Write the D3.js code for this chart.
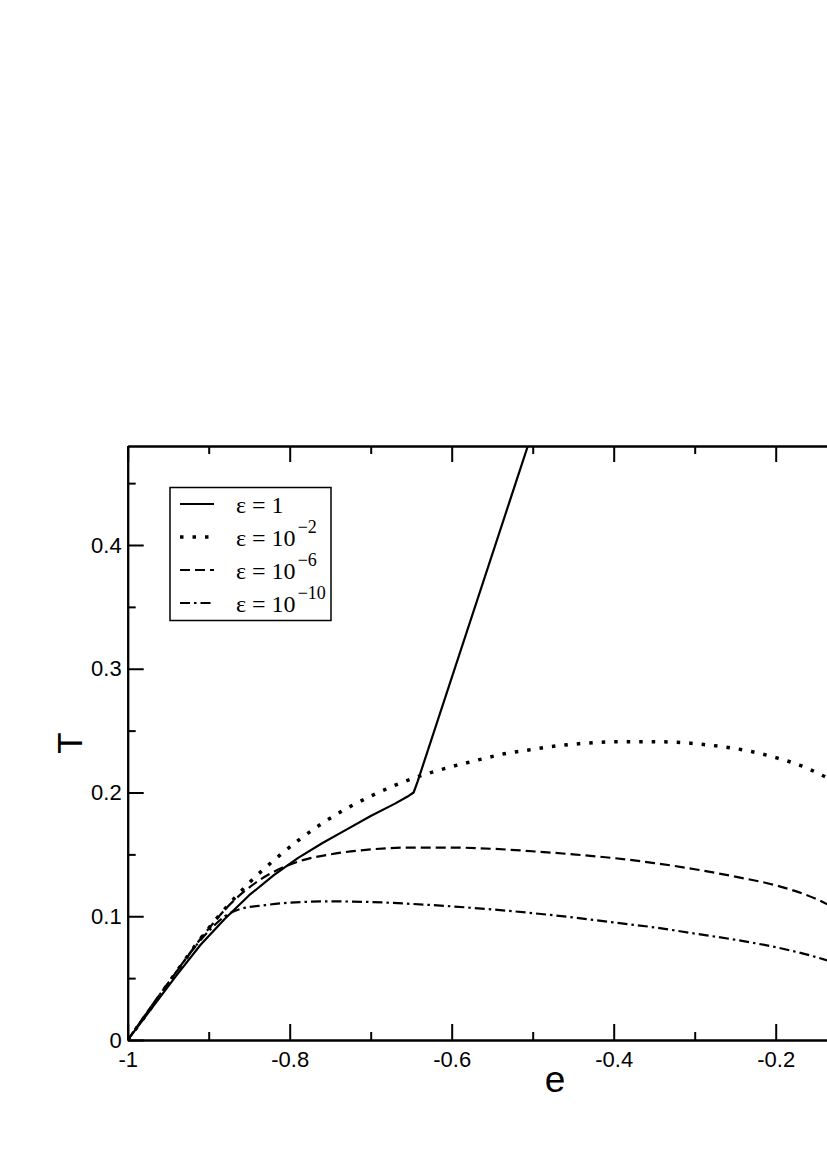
<!DOCTYPE html>
<meta charset="utf-8">

<!-- Load d3.js -->
<script src="https://d3js.org/d3.v7.min.js"></script>

<style>
  body { margin: 0; background: #fff; overflow: hidden; }
</style>

<!-- Create a div where the graph will take place -->
<div id="my_dataviz"></div>

<script>

// curves: e values and T values for each epsilon
var eps1_e = [-1, -0.97, -0.94, -0.91, -0.88, -0.85, -0.82, -0.79, -0.76, -0.73, -0.70, -0.67, -0.655, -0.647, -0.642, -0.506, -0.49];
var eps1_T = [0, 0.026, 0.052, 0.077, 0.098, 0.117, 0.133, 0.147, 0.159, 0.170, 0.181, 0.191, 0.1965, 0.2, 0.209, 0.48, 0.512];

var eps2_e = [-1, -0.97, -0.94, -0.91, -0.88, -0.85, -0.82, -0.79, -0.76, -0.73, -0.70, -0.674, -0.644, -0.615, -0.584, -0.56,
  -0.538, -0.508, -0.477, -0.447, -0.416, -0.385, -0.354, -0.322, -0.292, -0.261, -0.230, -0.200, -0.170, -0.142, -0.12];
var eps2_T = [0, 0.027, 0.055, 0.082, 0.106, 0.127, 0.145, 0.161, 0.175, 0.187, 0.197, 0.2047, 0.2123, 0.2182, 0.2236, 0.2275,
  0.2309, 0.2341, 0.2371, 0.2392, 0.2406, 0.2411, 0.2411, 0.2406, 0.2390, 0.2366, 0.2331, 0.2282, 0.2220, 0.2137, 0.206];

var eps6_e = [-1, -0.95, -0.9, -0.87, -0.84, -0.81, -0.78, -0.75, -0.70, -0.65, -0.60, -0.55, -0.50, -0.45, -0.40, -0.35, -0.30, -0.25, -0.20, -0.15, -0.12];
var eps6_T = [0, 0.046, 0.090, 0.112, 0.128, 0.139, 0.146, 0.150, 0.154, 0.1555, 0.1555, 0.1545, 0.1525, 0.150, 0.147, 0.143, 0.138, 0.132, 0.125, 0.114, 0.104];

var eps10_e = [-1, -0.95, -0.9, -0.88, -0.86, -0.83, -0.80, -0.75, -0.70, -0.65, -0.60, -0.55, -0.50, -0.45, -0.40, -0.35, -0.30, -0.25, -0.20, -0.15, -0.12];
var eps10_T = [0, 0.046, 0.088, 0.100, 0.106, 0.109, 0.111, 0.112, 0.1115, 0.110, 0.108, 0.1055, 0.1025, 0.099, 0.095, 0.091, 0.086, 0.081, 0.075, 0.067, 0.061];

// tick labels (the 0 end of the axis lies outside the window)
var xTicks = [-1, -0.8, -0.6, -0.4, -0.2];
var xLabels = ["-1", "-0.8", "-0.6", "-0.4", "-0.2"];
var xMinor = [-0.9, -0.7, -0.5, -0.3, -0.1];
var yTicks = [0, 0.1, 0.2, 0.3, 0.4];
var yLabels = ["0", "0.1", "0.2", "0.3", "0.4"];
var yMinor = [0.05, 0.15, 0.25, 0.35, 0.45];

// legend entries
var legendBase = ["\u03b5 = 1", "\u03b5 = 10", "\u03b5 = 10", "\u03b5 = 10"];
var legendSup = ["", "\u22122", "\u22126", "\u221210"];

// the plot runs past the right edge of the window, as in the picture
var svg = d3.select("#my_dataviz")
  .append("svg")
    .attr("width", 827)
    .attr("height", 1168);

var x = d3.scaleLinear()
  .domain([-1, 0])
  .range([127.7, 937.7]);

var y = d3.scaleLinear()
  .domain([0, 0.48])
  .range([1040, 446]);

// clip for the curves
svg.append("clipPath")
    .attr("id", "plotclip")
  .append("rect")
    .attr("x", x(-1))
    .attr("y", y(0.48))
    .attr("width", x(0) - x(-1))
    .attr("height", y(0) - y(0.48));

var styles = [
  {e: eps1_e, T: eps1_T, dash: null, w: 2.2, curve: d3.curveLinear},
  {e: eps2_e, T: eps2_T, dash: "3.5,9", w: 3.5, curve: d3.curveMonotoneX},
  {e: eps6_e, T: eps6_T, dash: "10,5", w: 2.2, curve: d3.curveMonotoneX},
  {e: eps10_e, T: eps10_T, dash: "10,4,2.5,4", w: 2.2, curve: d3.curveMonotoneX}
];

function pathFor(s) {
  return d3.line()
    .x(function(d) { return x(d[0]); })
    .y(function(d) { return y(d[1]); })
    .curve(s.curve)(d3.zip(s.e, s.T));
}

svg.append("g")
    .attr("clip-path", "url(#plotclip)")
  .selectAll("path")
  .data(styles)
  .enter()
  .append("path")
    .attr("d", pathFor)
    .attr("fill", "none")
    .attr("stroke", "black")
    .attr("stroke-width", function(s) { return s.w; })
    .attr("stroke-linejoin", "round")
    .attr("stroke-dasharray", function(s) { return s.dash; });

// axes: ticks point inwards
var tickFont = "Liberation Sans, Arial, sans-serif";

function styleAxis(g) {
  g.selectAll("path").attr("stroke", "black").attr("stroke-width", 2);
  g.selectAll("line").attr("stroke", "black").attr("stroke-width", 2);
  g.selectAll("text").attr("font-family", tickFont).attr("font-size", 22).attr("fill", "black");
}

svg.append("g")
    .attr("transform", "translate(0," + y(0) + ")")
    .call(d3.axisBottom(x).tickValues(xTicks).tickFormat(function(d, i) { return xLabels[i]; })
      .tickSizeInner(-16).tickSizeOuter(0).tickPadding(11))
    .call(styleAxis);
svg.append("g")
    .attr("transform", "translate(0," + y(0) + ")")
    .call(d3.axisBottom(x).tickValues(xMinor).tickFormat("").tickSizeInner(-8).tickSizeOuter(0))
    .call(styleAxis);

svg.append("g")
    .attr("transform", "translate(0," + y(0.48) + ")")
    .call(d3.axisTop(x).tickValues(xTicks).tickFormat("").tickSizeInner(-16).tickSizeOuter(0))
    .call(styleAxis);
svg.append("g")
    .attr("transform", "translate(0," + y(0.48) + ")")
    .call(d3.axisTop(x).tickValues(xMinor).tickFormat("").tickSizeInner(-8).tickSizeOuter(0))
    .call(styleAxis);

svg.append("g")
    .attr("transform", "translate(" + x(-1) + ",0)")
    .call(d3.axisLeft(y).tickValues(yTicks).tickFormat(function(d, i) { return yLabels[i]; })
      .tickSizeInner(-16).tickSizeOuter(0).tickPadding(6))
    .call(styleAxis);
svg.append("g")
    .attr("transform", "translate(" + x(-1) + ",0)")
    .call(d3.axisLeft(y).tickValues(yMinor).tickFormat("").tickSizeInner(-8).tickSizeOuter(0))
    .call(styleAxis);

// axis titles
svg.append("text")
    .attr("x", 555)
    .attr("y", 1092)
    .attr("text-anchor", "middle")
    .attr("font-family", tickFont)
    .attr("font-size", 37)
    .text("e");

svg.append("text")
    .attr("text-anchor", "middle")
    .attr("font-family", tickFont)
    .attr("font-size", 35)
    .attr("transform", "translate(82,743) rotate(-90)")
    .text("T");

// legend
var lg = svg.append("g");
lg.append("rect")
    .attr("x", 170)
    .attr("y", 487.5)
    .attr("width", 161)
    .attr("height", 133)
    .attr("fill", "white")
    .attr("stroke", "black")
    .attr("stroke-width", 1.5);

var rows = lg.selectAll("g.row")
  .data(styles)
  .enter()
  .append("g")
    .attr("class", "row")
    .attr("transform", function(d, i) { return "translate(0," + (504 + i * 33) + ")"; });

rows.append("line")
    .attr("x1", 180)
    .attr("x2", 214)
    .attr("stroke", "black")
    .attr("stroke-width", function(s) { return s.w; })
    .attr("stroke-dasharray", function(s) { return s.dash; });

var lt = rows.append("text")
    .attr("x", 236)
    .attr("y", 9)
    .attr("font-family", "Liberation Serif, Times New Roman, serif")
    .attr("font-size", 24);
lt.append("tspan").text(function(d, i) { return legendBase[i]; });
lt.append("tspan")
    .attr("dy", -13)
    .attr("dx", 2)
    .attr("font-size", 18)
    .text(function(d, i) { return legendSup[i]; });

</script>
